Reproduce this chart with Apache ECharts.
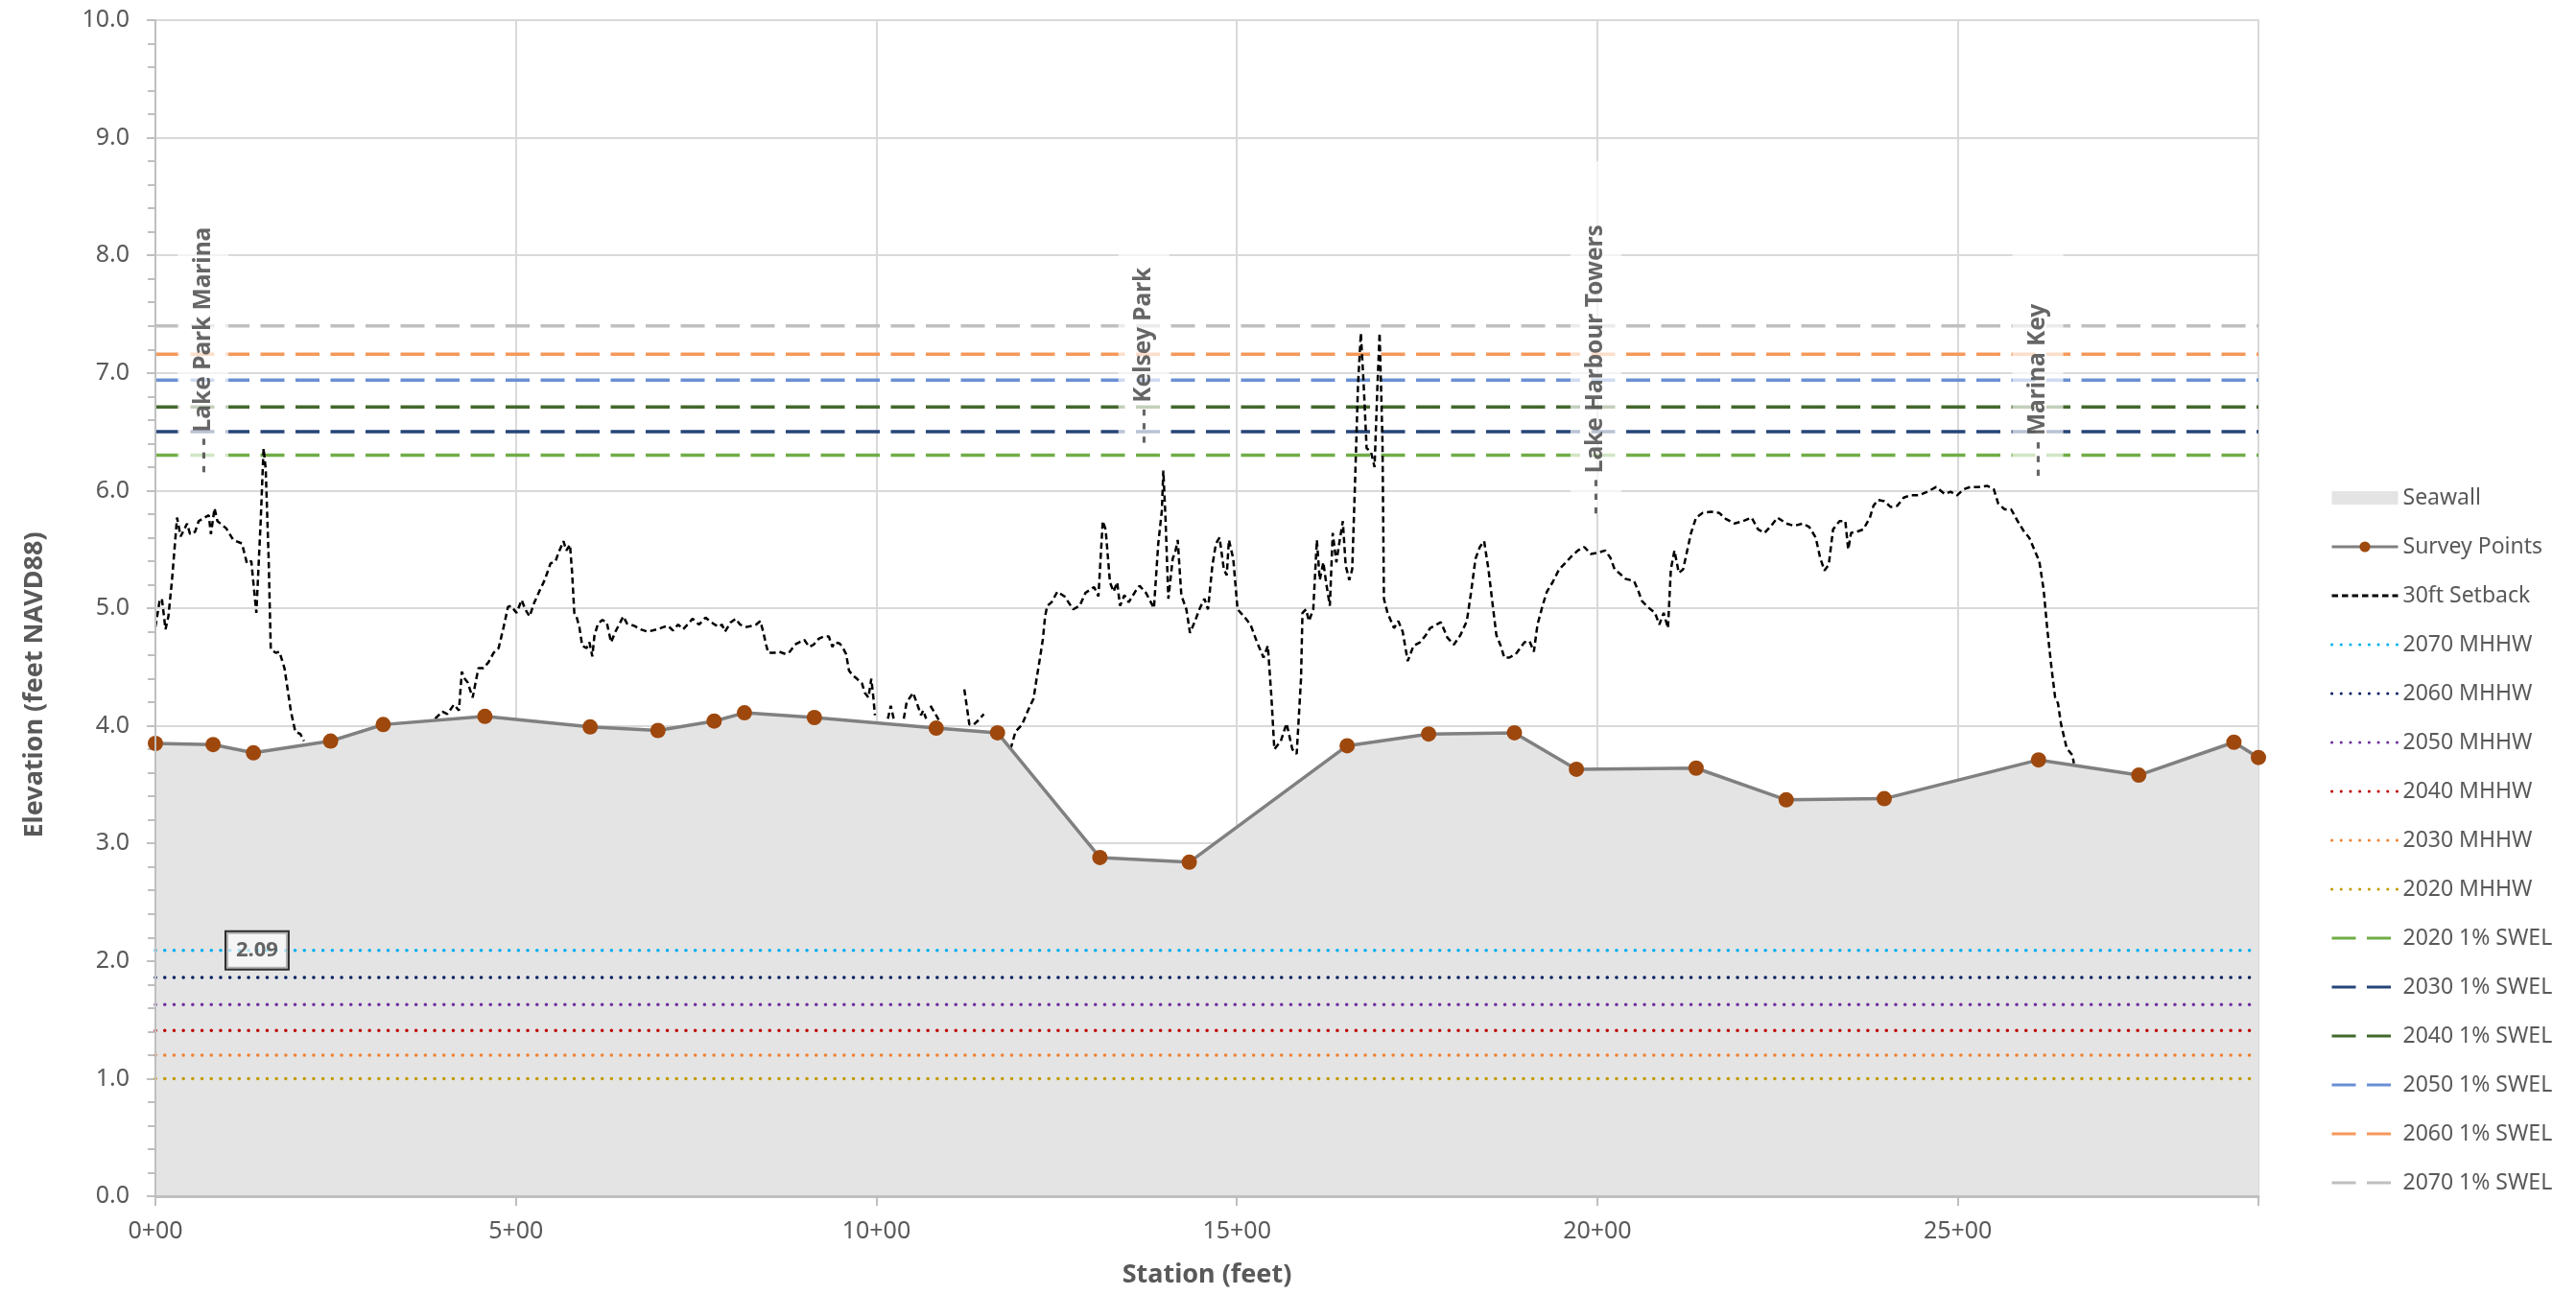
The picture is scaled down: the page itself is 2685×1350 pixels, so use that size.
<!DOCTYPE html>
<html lang="en">
<head>
<meta charset="UTF-8">
<title>Seawall Elevation Profile</title>
<style>
    html, body { margin: 0; padding: 0; background: #fff; }
    #chart { width: 2685px; height: 1350px; }
</style>
<script src="https://cdn.jsdelivr.net/npm/echarts@6.0.0/dist/echarts.min.js"></script>
</head>
<body>
<div id="chart"></div>
<script>
    // seawall survey points (station in feet, elevation in feet NAVD88)
    const surveyStations = [0, 80, 136, 243, 316, 457, 603, 697, 775, 817, 914, 1083, 1168,
        1310, 1434, 1653, 1766, 1885, 1971, 2137, 2262, 2398, 2612, 2751, 2883, 2917];
    const surveyElev = [3.85, 3.84, 3.77, 3.87, 4.01, 4.08, 3.99, 3.96, 4.04, 4.11, 4.07, 3.98, 3.94,
        2.88, 2.84, 3.83, 3.93, 3.94, 3.63, 3.64, 3.37, 3.38, 3.71, 3.58, 3.86, 3.73];

    // ground 30 ft behind the wall, [station, elevation]; null = line hidden behind the wall
    const setbackProfile = [
        [0, 4.84], [6, 5.07], [9, 5.08], [14, 4.82], [18, 4.93], [23, 5.24], [30, 5.77], [35, 5.61], [44, 5.72], [48, 5.63],
        [55, 5.65], [60, 5.74], [68, 5.77], [74, 5.79], [77, 5.63], [82, 5.85], [86, 5.74], [98, 5.68], [108, 5.58], [120, 5.55],
        [127, 5.38], [133, 5.40], [140, 4.96], [146, 5.74], [150, 6.36], [153, 6.18], [157, 5.43], [160, 4.65], [167, 4.62], [172, 4.63],
        [179, 4.49], [188, 4.12], [194, 3.95], [201, 3.93], [206, 3.87],
        [300, null],
        [388, 4.06], [398, 4.12], [405, 4.10], [414, 4.18], [421, 4.13], [425, 4.46], [429, 4.40], [433, 4.37], [440, 4.24], [448, 4.49],
        [455, 4.49], [462, 4.54], [469, 4.62], [476, 4.66], [483, 4.84], [489, 5.01], [493, 5.02], [501, 4.96], [508, 5.07], [513, 4.99],
        [519, 4.93], [525, 5.04], [533, 5.15], [540, 5.24], [548, 5.38], [555, 5.40], [559, 5.47], [566, 5.57], [570, 5.49], [575, 5.54],
        [578, 5.30], [581, 4.96], [584, 4.93], [588, 4.84], [592, 4.68], [598, 4.66], [602, 4.71], [606, 4.59], [609, 4.77], [614, 4.87],
        [620, 4.90], [626, 4.88], [632, 4.71], [638, 4.80], [644, 4.87], [649, 4.93], [654, 4.87], [664, 4.85], [673, 4.82], [683, 4.80],
        [696, 4.82], [705, 4.84], [711, 4.85], [718, 4.81], [725, 4.86], [732, 4.82], [738, 4.86], [745, 4.91], [754, 4.86], [763, 4.92],
        [769, 4.89], [776, 4.86], [781, 4.84], [786, 4.86], [790, 4.80], [798, 4.88], [805, 4.91], [811, 4.86], [820, 4.84], [828, 4.85],
        [833, 4.86], [839, 4.89], [843, 4.80], [847, 4.69], [850, 4.62], [858, 4.62], [865, 4.63], [874, 4.61], [880, 4.63], [887, 4.69],
        [893, 4.71], [900, 4.73], [907, 4.67], [913, 4.69], [920, 4.74], [927, 4.76], [934, 4.76], [939, 4.67], [942, 4.71], [949, 4.70],
        [953, 4.67], [958, 4.61], [962, 4.47], [967, 4.43], [973, 4.40], [980, 4.36], [984, 4.28], [989, 4.24], [993, 4.40], [996, 4.23],
        [998, 4.09],
        [1007, null],
        [1016, 4.06], [1020, 4.17], [1024, 4.06],
        [1031, null],
        [1038, 4.06], [1042, 4.20], [1051, 4.28], [1058, 4.16], [1062, 4.09], [1065, 4.13], [1069, 4.06],
        [1072, null],
        [1075, 4.17], [1082, 4.10], [1089, 4.02],
        [1105, null],
        [1122, 4.31], [1126, 4.14], [1129, 4.01], [1135, 4.01], [1142, 4.05], [1149, 4.10],
        [1170, null],
        [1186, 3.80], [1193, 3.95], [1202, 4.01], [1211, 4.14], [1218, 4.23], [1222, 4.39], [1227, 4.58], [1231, 4.74], [1234, 4.93], [1237, 5.02],
        [1243, 5.05], [1251, 5.14], [1261, 5.10], [1273, 4.99], [1282, 5.02], [1290, 5.13], [1302, 5.18], [1308, 5.10], [1314, 5.74], [1318, 5.67],
        [1324, 5.22], [1329, 5.14], [1334, 5.22], [1338, 5.02], [1344, 5.11], [1350, 5.05], [1359, 5.14], [1365, 5.19], [1374, 5.13], [1385, 5.00],
        [1391, 5.55], [1396, 5.83], [1398, 6.17], [1401, 5.77], [1405, 5.08], [1411, 5.42], [1415, 5.49], [1418, 5.58], [1423, 5.11], [1430, 4.99],
        [1435, 4.79], [1442, 4.89], [1448, 4.99], [1455, 5.08], [1460, 4.99], [1466, 5.36], [1471, 5.55], [1476, 5.60], [1482, 5.33], [1486, 5.28],
        [1489, 5.58], [1495, 5.42], [1501, 4.99], [1510, 4.93], [1519, 4.86], [1528, 4.71], [1537, 4.58], [1543, 4.68], [1548, 4.24], [1552, 3.80],
        [1561, 3.87], [1569, 4.02], [1577, 3.80], [1583, 3.76], [1589, 4.40], [1591, 4.96], [1596, 4.99], [1600, 4.89], [1606, 4.99], [1611, 5.58],
        [1615, 5.24], [1620, 5.39], [1624, 5.21], [1629, 5.02], [1633, 5.64], [1638, 5.39], [1642, 5.55], [1647, 5.74], [1651, 5.36], [1656, 5.24],
        [1660, 5.33], [1664, 6.08], [1668, 6.89], [1672, 7.34], [1676, 6.89], [1680, 6.36], [1686, 6.33], [1691, 6.20], [1695, 6.89], [1698, 7.34],
        [1702, 6.42], [1704, 5.08], [1709, 4.96], [1718, 4.83], [1724, 4.89], [1730, 4.80], [1737, 4.55], [1745, 4.68], [1754, 4.71], [1762, 4.77],
        [1768, 4.83], [1774, 4.85], [1783, 4.88], [1792, 4.75], [1801, 4.69], [1810, 4.77], [1819, 4.89], [1825, 5.14], [1831, 5.42], [1837, 5.52],
        [1843, 5.57], [1849, 5.33], [1855, 5.02], [1860, 4.77], [1866, 4.68], [1871, 4.58], [1878, 4.58], [1887, 4.61], [1899, 4.71], [1906, 4.72],
        [1912, 4.63], [1917, 4.86], [1924, 5.02], [1930, 5.14], [1938, 5.22], [1947, 5.33], [1955, 5.38], [1964, 5.44], [1973, 5.49], [1982, 5.52],
        [1991, 5.46], [2000, 5.47], [2011, 5.49], [2018, 5.43], [2024, 5.33], [2030, 5.30], [2039, 5.25], [2051, 5.23], [2056, 5.16], [2062, 5.06],
        [2070, 5.01], [2080, 4.96], [2086, 4.86], [2092, 4.96], [2098, 4.83], [2102, 5.33], [2107, 5.49], [2113, 5.30], [2119, 5.33], [2125, 5.50],
        [2130, 5.64], [2137, 5.77], [2146, 5.81], [2158, 5.82], [2169, 5.81], [2178, 5.76], [2190, 5.72], [2202, 5.74], [2214, 5.77], [2223, 5.67],
        [2232, 5.64], [2241, 5.70], [2250, 5.77], [2262, 5.72], [2273, 5.70], [2285, 5.72], [2294, 5.69], [2303, 5.60], [2309, 5.43], [2315, 5.32],
        [2321, 5.37], [2327, 5.67], [2336, 5.74], [2344, 5.74], [2348, 5.50], [2352, 5.64], [2360, 5.65], [2369, 5.67], [2378, 5.77], [2383, 5.87],
        [2389, 5.92], [2398, 5.91], [2407, 5.86], [2416, 5.87], [2425, 5.94], [2434, 5.96], [2446, 5.96], [2458, 5.99], [2470, 6.03], [2482, 5.97],
        [2490, 5.99], [2499, 5.96], [2508, 6.01], [2517, 6.03], [2529, 6.03], [2541, 6.04], [2550, 6.01], [2556, 5.89], [2565, 5.84], [2574, 5.84],
        [2583, 5.74], [2592, 5.65], [2599, 5.60], [2606, 5.50], [2613, 5.40], [2619, 5.16], [2624, 4.83], [2630, 4.49], [2635, 4.24], [2639, 4.19],
        [2643, 4.02], [2651, 3.81], [2659, 3.75], [2661, 3.68]
    ];

    // tidal datums (dotted) and storm water levels (dashed)
    const mhhwNames = ['2070 MHHW', '2060 MHHW', '2050 MHHW', '2040 MHHW', '2030 MHHW', '2020 MHHW'];
    const mhhwLevels = [2.09, 1.86, 1.63, 1.41, 1.20, 1.00];
    const mhhwColors = ['#00b0f0', '#002060', '#7030a0', '#c00000', '#f08131', '#c49a00'];

    const swelNames = ['2020 1% SWEL', '2030 1% SWEL', '2040 1% SWEL', '2050 1% SWEL', '2060 1% SWEL', '2070 1% SWEL'];
    const swelLevels = [6.30, 6.50, 6.71, 6.94, 7.16, 7.40];
    const swelColors = ['#70ad47', '#264478', '#43682b', '#6a8fd3', '#f4985a', '#bfbfbf'];

    // site annotations
    const siteNames = ['Lake Park Marina', 'Kelsey Park', 'Lake Harbour Towers', 'Marina Key'];
    const siteStations = [66, 1371, 1998, 2611];
    const siteElev = [6.15, 6.40, 5.80, 6.12];

    const stationMax = 2917;
    const mhhwLabelStation = 141;

    const FONT = "'Noto Sans', 'Open Sans', sans-serif";
    const GRAY_TEXT = '#595959';

    function flat(level) {
        return [[0, level], [stationMax, level]];
    }

    const surveyData = surveyStations.map((s, i) => [s, surveyElev[i]]);

    const series = [
        {
            name: 'Seawall',
            type: 'line',
            z: 1,
            data: surveyData,
            symbol: 'none',
            color: '#e4e4e4',
            lineStyle: { width: 0 },
            areaStyle: { color: '#e4e4e4', opacity: 1 },
            silent: true
        },
        {
            name: 'Survey Points',
            type: 'line',
            z: 5,
            data: surveyData,
            symbol: 'circle',
            symbolSize: 16,
            color: '#9e480e',
            lineStyle: { color: '#808080', width: 3.5 },
            itemStyle: { color: '#9e480e' }
        },
        {
            name: '30ft Setback',
            type: 'line',
            z: 4,
            data: setbackProfile,
            symbol: 'none',
            connectNulls: false,
            color: '#000000',
            itemStyle: { opacity: 0 },
            lineStyle: { color: '#000000', width: 2.5, type: [6.5, 4] }
        }
    ];

    mhhwNames.forEach((name, i) => {
        series.push({
            name: name,
            type: 'line',
            z: 2,
            data: flat(mhhwLevels[i]),
            symbol: 'none',
            color: mhhwColors[i],
            itemStyle: { opacity: 0 },
            lineStyle: { color: mhhwColors[i], width: 3.5, type: [0.1, 9.6], cap: 'round' }
        });
    });

    swelNames.forEach((name, i) => {
        series.push({
            name: name,
            type: 'line',
            z: 2,
            data: flat(swelLevels[i]),
            symbol: 'none',
            color: swelColors[i],
            itemStyle: { opacity: 0 },
            lineStyle: { color: swelColors[i], width: 3.5, type: [25, 11.5] }
        });
    });

    // vertical site labels
    series.push({
        name: 'sites',
        type: 'scatter',
        z: 3,
        symbolSize: 1,
        itemStyle: { color: 'rgba(0,0,0,0)' },
        silent: true,
        data: siteNames.map((n, i) => ({ name: '- - - ' + n, value: [siteStations[i], siteElev[i]] })),
        label: {
            show: true,
            formatter: '{b}',
            position: 'inside',
            rotate: 90,
            align: 'left',
            verticalAlign: 'middle',
            fontFamily: FONT,
            fontSize: 24.5,
            fontWeight: 'bold',
            color: '#404040',
            backgroundColor: 'rgba(255,255,255,0.85)',
            padding: [14, 66, 14, 0]
        }
    });

    // value box on the 2070 MHHW line
    series.push({
        name: 'mhhw label',
        type: 'scatter',
        z: 6,
        symbolSize: 1,
        itemStyle: { color: 'rgba(0,0,0,0)' },
        silent: true,
        data: [[mhhwLabelStation, mhhwLevels[0]]],
        label: {
            show: true,
            position: 'inside',
            formatter: p => p.value[1].toFixed(2),
            fontFamily: FONT,
            fontSize: 22,
            fontWeight: 'bold',
            color: '#404040',
            backgroundColor: 'rgba(255,255,255,0.8)',
            borderColor: '#000000',
            borderWidth: 2,
            padding: [8, 10]
        }
    });

    const legendOrder = [{ name: 'Seawall', icon: 'rect', itemStyle: { color: '#e4e4e4' } }, 'Survey Points', '30ft Setback']
        .concat(mhhwNames, swelNames);

    const option = {
        animation: false,
        backgroundColor: '#ffffff',
        textStyle: { fontFamily: FONT },
        grid: { left: 162, right: 331, top: 21, bottom: 103, outerBoundsMode: 'none' },
        legend: {
            orient: 'vertical',
            left: 2424,
            top: 502,
            itemWidth: 69,
            itemHeight: 14,
            itemGap: 27,
            lineStyle: { width: 3 },
            textStyle: { fontFamily: FONT, fontSize: 23, color: GRAY_TEXT, lineHeight: 24 },
            data: legendOrder
        },
        xAxis: [
            {
                type: 'value',
                min: 0,
                max: stationMax,
                interval: 500,
                name: 'Station (feet)',
                nameLocation: 'middle',
                nameGap: 69,
                nameTextStyle: { fontFamily: FONT, fontSize: 27, fontWeight: 'bold', color: GRAY_TEXT },
                axisLine: { show: false },
                axisTick: { show: true, length: 10, lineStyle: { color: '#bfbfbf', width: 2 } },
                axisLabel: {
                    margin: 24,
                    fontFamily: FONT,
                    fontSize: 25,
                    color: GRAY_TEXT,
                    formatter: v => (v % 500 === 0 ? (v / 100) + '+00' : '')
                },
                splitLine: { show: true, lineStyle: { color: '#d9d9d9', width: 2 } }
            },
            {
                type: 'value',
                min: 0,
                max: stationMax,
                position: 'bottom',
                z: 8,
                axisLine: { show: true, onZero: false, lineStyle: { color: '#bfbfbf', width: 3 } },
                axisTick: { show: false },
                axisLabel: { show: false },
                splitLine: { show: false }
            }
        ],
        yAxis: [
            {
                type: 'value',
                min: 0,
                max: 10,
                interval: 1,
                name: 'Elevation (feet NAVD88)',
                nameLocation: 'middle',
                nameGap: 112,
                nameTextStyle: {
                    fontFamily: FONT, fontSize: 27, fontWeight: 'bold', color: GRAY_TEXT,
                    padding: [0, 160, 0, 0]
                },
                axisLine: { show: false },
                axisTick: { show: true, length: 9, lineStyle: { color: '#bfbfbf', width: 2 } },
                minorTick: { show: true, splitNumber: 5, length: 8, lineStyle: { color: '#bfbfbf', width: 2 } },
                axisLabel: {
                    margin: 27,
                    fontFamily: FONT,
                    fontSize: 25,
                    color: GRAY_TEXT,
                    formatter: v => v.toFixed(1)
                },
                splitLine: { show: true, lineStyle: { color: '#d9d9d9', width: 2 } }
            },
            {
                type: 'value',
                min: 0,
                max: 10,
                position: 'left',
                z: 8,
                axisLine: { show: true, onZero: false, lineStyle: { color: '#bfbfbf', width: 2 } },
                axisTick: { show: false },
                axisLabel: { show: false },
                splitLine: { show: false }
            },
            {
                type: 'value',
                min: 0,
                max: 10,
                position: 'right',
                axisLine: { show: true, onZero: false, lineStyle: { color: '#d9d9d9', width: 2 } },
                axisTick: { show: false },
                axisLabel: { show: false },
                splitLine: { show: false }
            }
        ],
        series: series
    };

    const chart = echarts.init(document.getElementById('chart'));
    chart.setOption(option);
</script>
</body>
</html>
